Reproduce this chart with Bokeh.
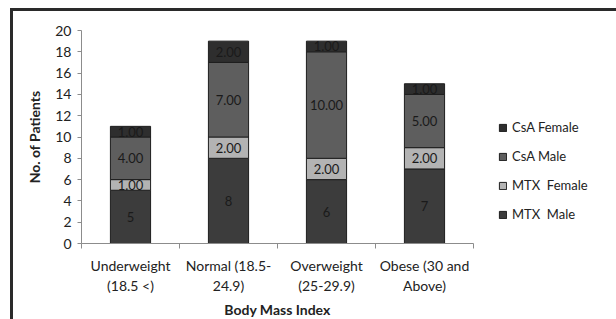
from bokeh.plotting import figure
from bokeh.models import ColumnDataSource, LabelSet, FixedTicker, Legend, LegendItem, Range1d
from bokeh.core.properties import value
from bokeh.embed import file_html
from bokeh.resources import INLINE
import numpy as np

categories = ["Underweight\n(18.5 <)", "Normal (18.5-\n24.9)", "Overweight\n(25-29.9)", "Obese (30 and\nAbove)"]
mtx_male = [5, 8, 6, 7]
mtx_female = [1, 2, 2, 2]
csa_male = [4, 7, 10, 5]
csa_female = [1, 2, 1, 1]
series_names = ["MTX  Male", "MTX  Female", "CsA Male", "CsA Female"]
colors = ["#3c3c3c", "#b3b3b3", "#5e5e5e", "#2e2e2e"]
y_ticks = list(range(0, 21, 2))

FONT = "Lato"
x = [i + 0.5 for i in range(len(categories))]
data = dict(x=x, m=mtx_male, f=mtx_female, cm=csa_male, cf=csa_female)
src = ColumnDataSource(data)

p = figure(frame_width=392, frame_height=213, output_backend="svg", toolbar_location=None,
           x_range=Range1d(0, 4), y_range=Range1d(0, 20),
           min_border_left=68, min_border_right=120, min_border_top=19, min_border_bottom=10)
p.styles = {"border-top": "3px solid #2a2a2a", "border-left": "3px solid #2a2a2a",
            "margin-top": "8px", "margin-left": "10px"}
p.outline_line_color = None
p.xgrid.grid_line_color = None
p.ygrid.grid_line_color = None

rs = p.vbar_stack(["m", "f", "cm", "cf"], x="x", width=0.41, source=src,
                  color=colors, line_color="#1e1e1e", line_width=1)

# labels
vals = [mtx_male, mtx_female, csa_male, csa_female]
cum = np.zeros(len(categories))
for k, v in enumerate(vals):
    v = np.array(v, dtype=float)
    centers = cum + v / 2
    txt = [str(int(a)) if k == 0 else f"{a:.2f}" for a in v]
    s = ColumnDataSource(dict(x=x, y=centers, t=txt))
    p.add_layout(LabelSet(x="x", y="y", text="t", source=s, text_align="center",
                          text_baseline="middle", text_font=value(FONT), text_font_size="13px",
                          text_color="#1a1a1a"))
    cum = cum + v

# axes
p.xaxis.ticker = FixedTicker(ticks=x, minor_ticks=[0, 1, 2, 3, 4])
p.xaxis.major_label_overrides = {xx: c for xx, c in zip(x, categories)}
p.xaxis.major_tick_out = 0
p.xaxis.major_tick_in = 0
p.xaxis.minor_tick_out = 5
p.xaxis.minor_tick_in = 0
p.xaxis.minor_tick_line_color = "#8c8c8c"
p.xaxis.axis_line_color = "#8c8c8c"
p.xaxis.major_label_text_font = FONT
p.xaxis.major_label_text_font_size = "14px"
p.xaxis.major_label_text_color = "#222222"
p.xaxis.major_label_standoff = 8
p.xaxis.axis_label = "Body Mass Index"
p.xaxis.axis_label_text_font = FONT
p.xaxis.axis_label_text_font_size = "14px"
p.xaxis.axis_label_text_font_style = "bold"
p.xaxis.axis_label_text_color = "#222222"
p.xaxis.axis_label_standoff = 4

p.yaxis.ticker = FixedTicker(ticks=y_ticks, minor_ticks=[])
p.yaxis.major_tick_out = 4
p.yaxis.major_tick_in = 0
p.yaxis.major_tick_line_color = "#8c8c8c"
p.yaxis.axis_line_color = "#8c8c8c"
p.yaxis.major_label_text_font = FONT
p.yaxis.major_label_text_font_size = "14px"
p.yaxis.major_label_text_color = "#222222"
p.yaxis.major_label_standoff = 6
p.yaxis.axis_label = "No. of Patients"
p.yaxis.axis_label_text_font = FONT
p.yaxis.axis_label_text_font_size = "14px"
p.yaxis.axis_label_text_font_style = "bold"
p.yaxis.axis_label_text_color = "#222222"
p.yaxis.axis_label_standoff = 9

items = [LegendItem(label=series_names[k], renderers=[rs[k]]) for k in [3, 2, 1, 0]]
leg = Legend(items=items, location=(25, 21), orientation="vertical",
             glyph_width=9, glyph_height=9, label_height=16, spacing=13,
             label_standoff=5, padding=0, margin=0,
             label_text_font=FONT, label_text_font_size="13px", label_text_color="#222222",
             border_line_color=None, background_fill_alpha=0)
p.add_layout(leg, "right")

open("out.html", "w").write(file_html(p, INLINE))
